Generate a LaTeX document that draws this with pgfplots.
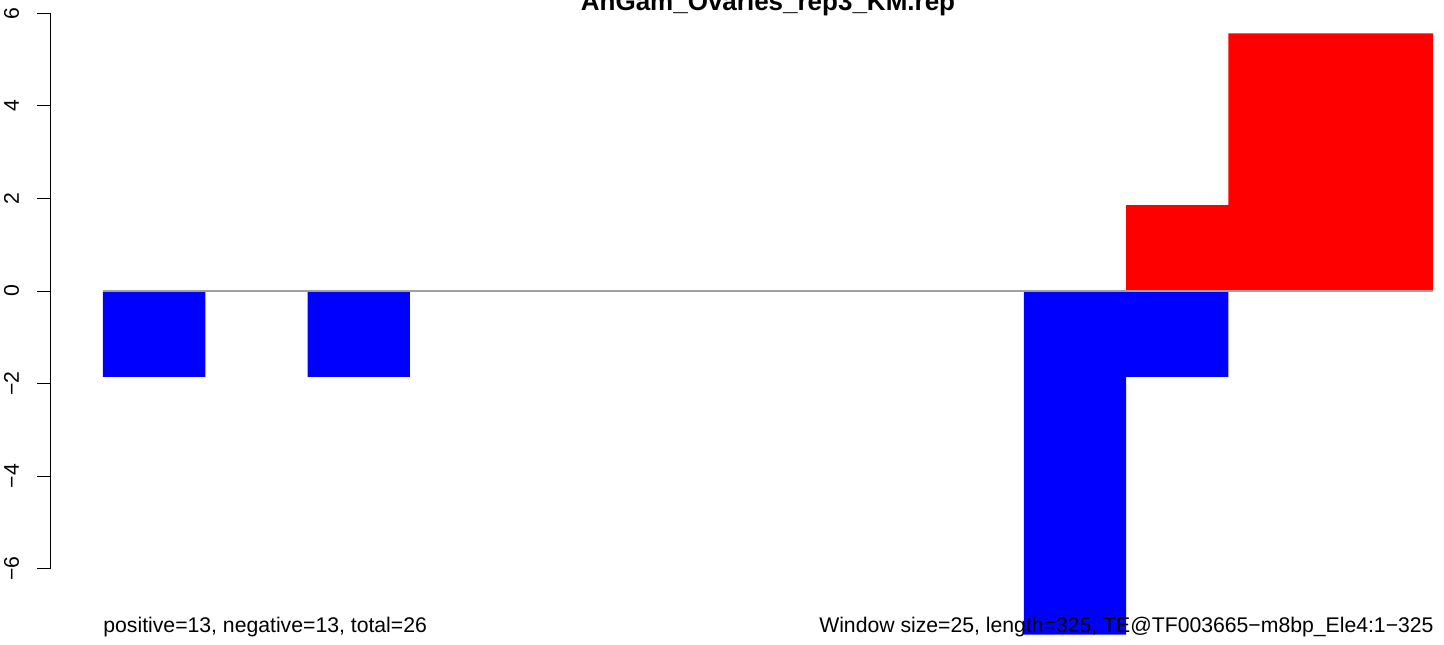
\documentclass[border=0pt]{standalone}
\usepackage{fontspec}
\setmainfont{Liberation Sans}
\usepackage{pgfplots}
\pgfplotsset{compat=1.18}
\definecolor{zerogray}{RGB}{160,160,160}
\begin{document}
\begin{tikzpicture}[x=1pt,y=1pt]
\useasboundingbox (0,0) rectangle (722,322);
\clip (0,0) rectangle (722,322);
\begin{axis}[
  at={(25pt,0pt)}, anchor=south west,
  scale only axis, width=697pt, height=322pt,
  xmin=-12.95, xmax=327.69, ymin=-7.632, ymax=6.292,
  axis line style={draw=none},
  xtick=\empty,
  ytick pos=left,
  ytick={-6,-4,-2,0,2,4,6},
  yticklabels={−6,−4,−2,0,2,4,6},
  tick align=outside, major tick length=6.5pt,
  ytick style={black, line width=0.5pt},
  yticklabel style={xshift=-9pt, rotate=90, anchor=base, inner sep=0pt, font=\fontsize{10.6}{12}\selectfont},
  clip=false,
]
\addplot[ybar interval, fill=blue, draw=none] coordinates {
(0,-1.857) (25,0) (50,-1.857) (75,0) (100,0) (125,0) (150,0) (175,0) (200,0)
(225,-7.429) (250,-1.857) (275,0) (300,0) (325,0)};
\addplot[ybar interval, fill=red, draw=none] coordinates {
(0,0) (25,0) (50,0) (75,0) (100,0) (125,0) (150,0) (175,0) (200,0)
(225,0) (250,1.857) (275,5.571) (300,5.571) (325,0)};
\draw[zerogray, line width=0.6pt] (axis cs:0,0) -- (axis cs:325,0);
\draw[black, line width=0.5pt] (axis cs:-12.95,-6) -- (axis cs:-12.95,6);
\end{axis}
\node[anchor=base west, inner sep=0pt, font=\fontsize{10.6}{12}\selectfont] at (51.5,6) {positive=13, negative=13, total=26};
\node[anchor=base east, inner sep=0pt, font=\fontsize{10.6}{12}\selectfont] at (717,6) {Window size=25, length=325, TE@TF003665−m8bp\_Ele4:1−325};
\node[anchor=base, inner sep=0pt, font=\bfseries\fontsize{13}{15}\selectfont] at (384,316.5) {AnGam\_Ovaries\_rep3\_KM.rep};
\end{tikzpicture}
\end{document}
